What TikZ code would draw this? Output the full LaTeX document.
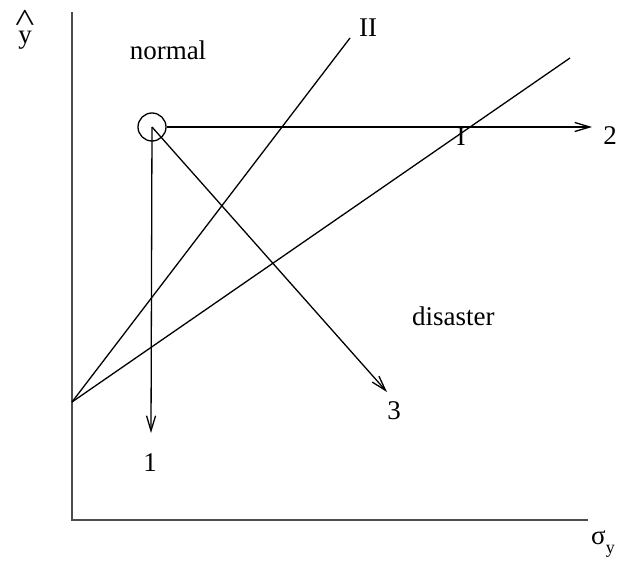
\documentclass[tikz,border=0pt]{standalone}
\usepackage{fontspec}
\usepackage{graphicx}
\setmainfont{Liberation Serif}
\usetikzlibrary{arrows.meta,positioning}

\begin{document}
\begin{tikzpicture}[
x=1pt, y=-1pt,
axis/.style={draw=black!70, line width=1.6pt},
line/.style={draw, line width=1.3pt},
arr/.style={-{Straight Barb[length=15pt, width=9pt, line width=1.3pt]}, line width=1.3pt},
lbl/.style={font=\fontsize{27}{30}\selectfont, inner sep=0pt}
]
\useasboundingbox (0,0) rectangle (626,562);
% axes
\coordinate (top) at (72,12);
\coordinate (orig) at (72,520);
\coordinate (right) at (588,520);
\draw[axis] (top) -- (orig) -- (right);
\node[lbl] (yhat) at (25,30) {\shortstack{\scalebox{1.5}[1.2]{\textasciicircum}\\[-4pt]y}};
\node[lbl, anchor=west] (sigma) at (591,544) {σ\raisebox{-0.35em}{\fontsize{18}{20}\selectfont y}};
% boundary lines
\coordinate (start) at (72,402);
\coordinate (endII) at (350,38);
\coordinate (endI) at (570,58);
\draw[line] (start) -- (endII);
\draw[line] (start) -- (endI);
\node[lbl] (II) at (368,28) {II};
\node[lbl] (I) at (461,137) {I};
% normal point
\node[draw, circle, line width=1.3pt, minimum size=28pt, inner sep=0pt] (normal) at (152,127) {};
\node[lbl] (normaltxt) at (168,50) {normal};
\coordinate (end1) at (151,433);
\coordinate (end2) at (592,127);
\coordinate (end3) at (387,392);
\draw[arr] (normal.center) -- (end1);
\draw[arr] (normal.east) -- (end2);
\draw[arr] (normal.center) -- (end3);
\node[lbl] (one) at (150,463) {1};
\node[lbl] (two) at (610,136) {2};
\node[lbl] (three) at (394,411) {3};
\node[lbl, anchor=west] (disaster) at (412,316) {disaster};
\end{tikzpicture}
\end{document}
